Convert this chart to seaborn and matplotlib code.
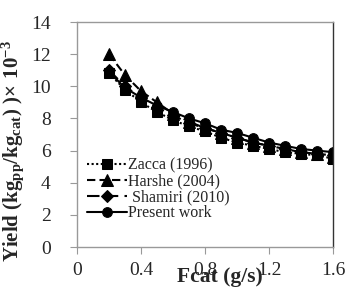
import matplotlib
matplotlib.use("Agg")
import matplotlib.pyplot as plt
import seaborn as sns
import pandas as pd

fcat = [0.2, 0.3, 0.4, 0.5, 0.6, 0.7, 0.8, 0.9, 1.0, 1.1, 1.2, 1.3, 1.4, 1.5, 1.6]
zacca = [10.8, 9.8, 9.0, 8.4, 7.9, 7.5, 7.2, 6.8, 6.5, 6.3, 6.1, 5.9, 5.8, 5.7, 5.5]
harshe = [12.0, 10.7, 9.7, 9.0, 8.3, 7.8, 7.4, 7.1, 6.8, 6.5, 6.3, 6.1, 5.9, 5.8, 5.6]
shamiri = [11.0, 10.0, 9.3, 8.7, 8.2, 7.7, 7.4, 7.1, 6.8, 6.5, 6.3, 6.1, 5.9, 5.8, 5.7]
present = [10.9, 9.9, 9.3, 8.8, 8.4, 8.0, 7.7, 7.3, 7.1, 6.8, 6.5, 6.3, 6.1, 6.0, 5.9]

series_names = ["Zacca (1996)", "Harshe (2004)", " Shamiri (2010)", "Present work"]
series_vals = [zacca, harshe, shamiri, present]
xticks = [0, 0.4, 0.8, 1.2, 1.6]
yticks = [0, 2, 4, 6, 8, 10, 12, 14]

sns.set_theme(style="white")
plt.rcParams['font.family'] = ['Liberation Serif', 'DejaVu Serif']
plt.rcParams['mathtext.fontset'] = 'custom'
plt.rcParams['mathtext.rm'] = 'Liberation Serif'
plt.rcParams['mathtext.bf'] = 'Liberation Serif:bold'

fig = plt.figure(figsize=(3.47, 2.94), dpi=100)
ax = fig.add_axes([77/347, 1 - 247/294, (333-77)/347, (247-22)/294])

styles = [
    dict(ls=(0, (1, 1.2)), marker="s", ms=7.5),
    dict(ls=(0, (4, 2)), marker="^", ms=8),
    dict(ls=(0, (6, 3)), marker="D", ms=6),
    dict(ls="-", marker="o", ms=7),
]
for name, vals, st in zip(series_names, series_vals, styles):
    df = pd.DataFrame({"x": fcat, "y": vals})
    sns.lineplot(data=df, x="x", y="y", ax=ax, color="black", lw=1.5,
                 linestyle=st["ls"], marker=st["marker"], markersize=st["ms"],
                 markeredgecolor="black", markerfacecolor="black", label=name)

ax.set_xlim(0, 1.6)
ax.set_ylim(0, 14)
ax.set_xticks(xticks)
ax.set_xticklabels([("%g" % t) for t in xticks])
ax.set_yticks(yticks)
ax.tick_params(axis="both", direction="out", length=5, width=0.8, color="#999999",
               labelsize=14, bottom=True, left=True)
ax.tick_params(axis="y", pad=14)
ax.tick_params(axis="x", pad=6)
for side in ["left", "bottom", "top"]:
    ax.spines[side].set_color("#999999")
    ax.spines[side].set_linewidth(1)
ax.spines["right"].set_color("#333333")
ax.spines["right"].set_linewidth(1)

ax.set_xlabel("Fcat (g/s)", fontsize=15.5, fontweight="bold")
ax.xaxis.set_label_coords(0.56, -0.09)
ax.set_ylabel(r"Yield (kg$_{\mathbf{pp}}$/kg$_{\mathbf{cat}}$) )$\mathregular{\times\ 10^{-3}}$",
              fontsize=15, fontweight="bold")
ax.yaxis.set_label_coords(-0.195, 0.425)

leg = ax.legend(loc="lower left", frameon=False, fontsize=11.5, handlelength=2.5,
                handletextpad=0.05, labelspacing=0.0, borderaxespad=0.0,
                bbox_to_anchor=(0.016, 0.085))

fig.savefig("out.png", dpi=100)
